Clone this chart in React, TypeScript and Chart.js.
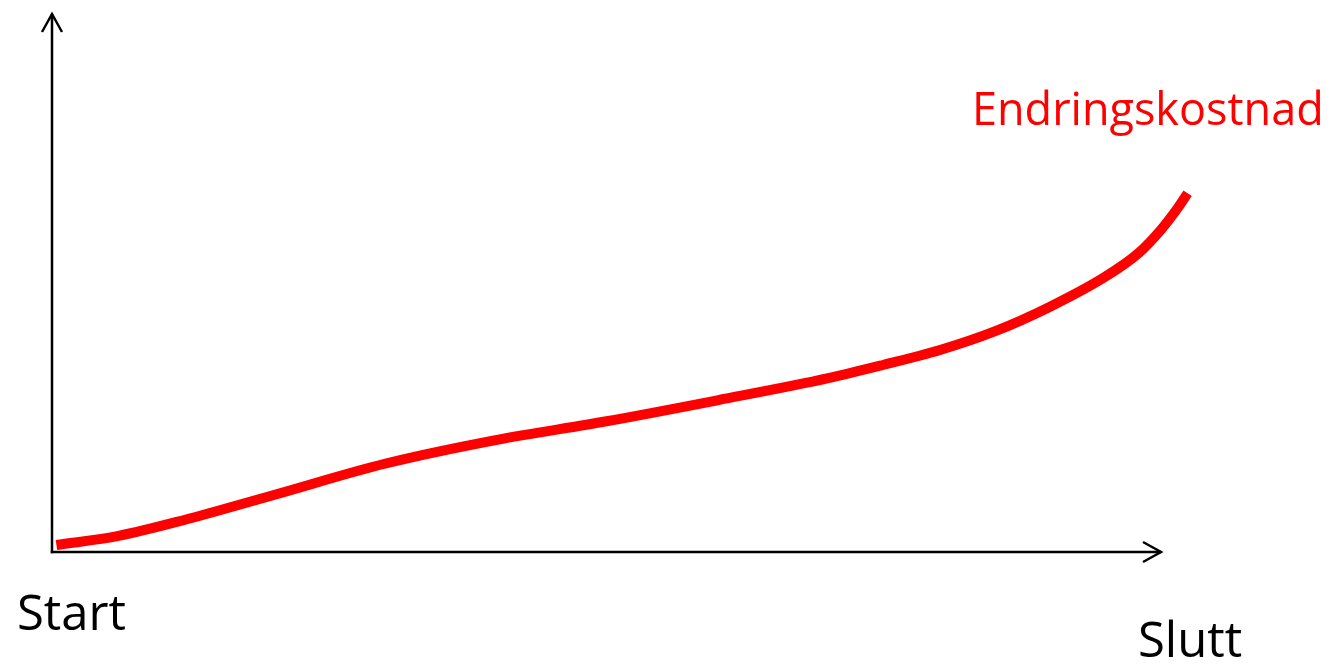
import React, { useEffect, useRef } from "react";
import { Chart, registerables } from "chart.js";

Chart.register(...registerables);

// Progress from start (0) to end (100) of the project
const progress = [0.4, 6, 12, 20, 30, 40, 50, 60, 70, 75, 80, 85, 90, 95, 98, 100, 101.5, 102.4];
// Cost of change (relative units, 0..100 = axis height)
const changeCost = [1.3, 3.0, 6.0, 10.6, 16.4, 20.8, 24.3, 28.2, 32.3, 34.8, 37.5, 41.0, 45.6, 51.2, 55.6, 59.9, 63.9, 66.7];

const seriesLabel = "Endringskostnad";
const startLabel = "Start";
const endLabel = "Slutt";
const axisEnd = 100;

const FONT = '"Open Sans", "Noto Sans", sans-serif';

const axesPlugin = {
  id: "arrowAxes",
  beforeDatasetsDraw(chart: any) {
    const { ctx, scales } = chart;
    const xs = scales.x;
    const ys = scales.y;
    const x0 = xs.getPixelForValue(0);
    const y0 = ys.getPixelForValue(0);
    const xEnd = xs.getPixelForValue(axisEnd);
    const yEnd = ys.getPixelForValue(axisEnd);
    ctx.save();
    ctx.strokeStyle = "#000";
    ctx.lineWidth = 2.5;
    ctx.lineCap = "butt";
    ctx.lineJoin = "miter";
    // y axis
    ctx.beginPath();
    ctx.moveTo(x0, y0 + 1.25);
    ctx.lineTo(x0, yEnd);
    ctx.stroke();
    ctx.beginPath();
    ctx.moveTo(x0 - 10, yEnd + 18);
    ctx.lineTo(x0, yEnd);
    ctx.lineTo(x0 + 10, yEnd + 18);
    ctx.stroke();
    // x axis
    ctx.beginPath();
    ctx.moveTo(x0 - 1.25, y0);
    ctx.lineTo(xEnd, y0);
    ctx.stroke();
    ctx.beginPath();
    ctx.moveTo(xEnd - 18, y0 - 10);
    ctx.lineTo(xEnd, y0);
    ctx.lineTo(xEnd - 18, y0 + 10);
    ctx.stroke();
    ctx.restore();
  },
  afterDraw(chart: any) {
    const { ctx, scales } = chart;
    const xs = scales.x;
    const ys = scales.y;
    const x0 = xs.getPixelForValue(0);
    const y0 = ys.getPixelForValue(0);
    const xEnd = xs.getPixelForValue(axisEnd);
    ctx.save();
    ctx.textBaseline = "alphabetic";
    ctx.textAlign = "left";
    ctx.fillStyle = "#000";
    ctx.font = `49px ${FONT}`;
    ctx.fillText(startLabel, x0 - 35, y0 + 78);
    ctx.fillText(endLabel, xEnd - 23, y0 + 105);
    ctx.fillStyle = "#ff0000";
    ctx.font = `45px ${FONT}`;
    ctx.fillText(seriesLabel, 972, 125);
    ctx.restore();
  },
};

export default function App() {
  const canvasRef = useRef<HTMLCanvasElement | null>(null);

  useEffect(() => {
    if (!canvasRef.current) return;
    const chart = new Chart(canvasRef.current, {
      type: "line",
      data: {
        datasets: [
          {
            label: seriesLabel,
            data: progress.map((x, i) => ({ x, y: changeCost[i] })),
            borderColor: "#ff0000",
            borderWidth: 10,
            borderCapStyle: "butt",
            borderJoinStyle: "round",
            pointRadius: 0,
            cubicInterpolationMode: "monotone",
            fill: false,
          },
        ],
      },
      options: {
        animation: false,
        responsive: true,
        maintainAspectRatio: false,
        layout: { padding: { left: 52, top: 14, right: 137.73, bottom: 115 } },
        scales: {
          x: { type: "linear", min: 0, max: 103, display: false },
          y: { type: "linear", min: 0, max: 100, display: false },
        },
        plugins: {
          legend: { display: false },
          tooltip: { enabled: false },
        },
      },
      plugins: [axesPlugin],
    });
    return () => chart.destroy();
  }, []);

  return (
    <div style={{ position: "absolute", left: 0, top: 0, width: 1332, height: 667, background: "#fff" }}>
      <canvas ref={canvasRef} />
    </div>
  );
}
